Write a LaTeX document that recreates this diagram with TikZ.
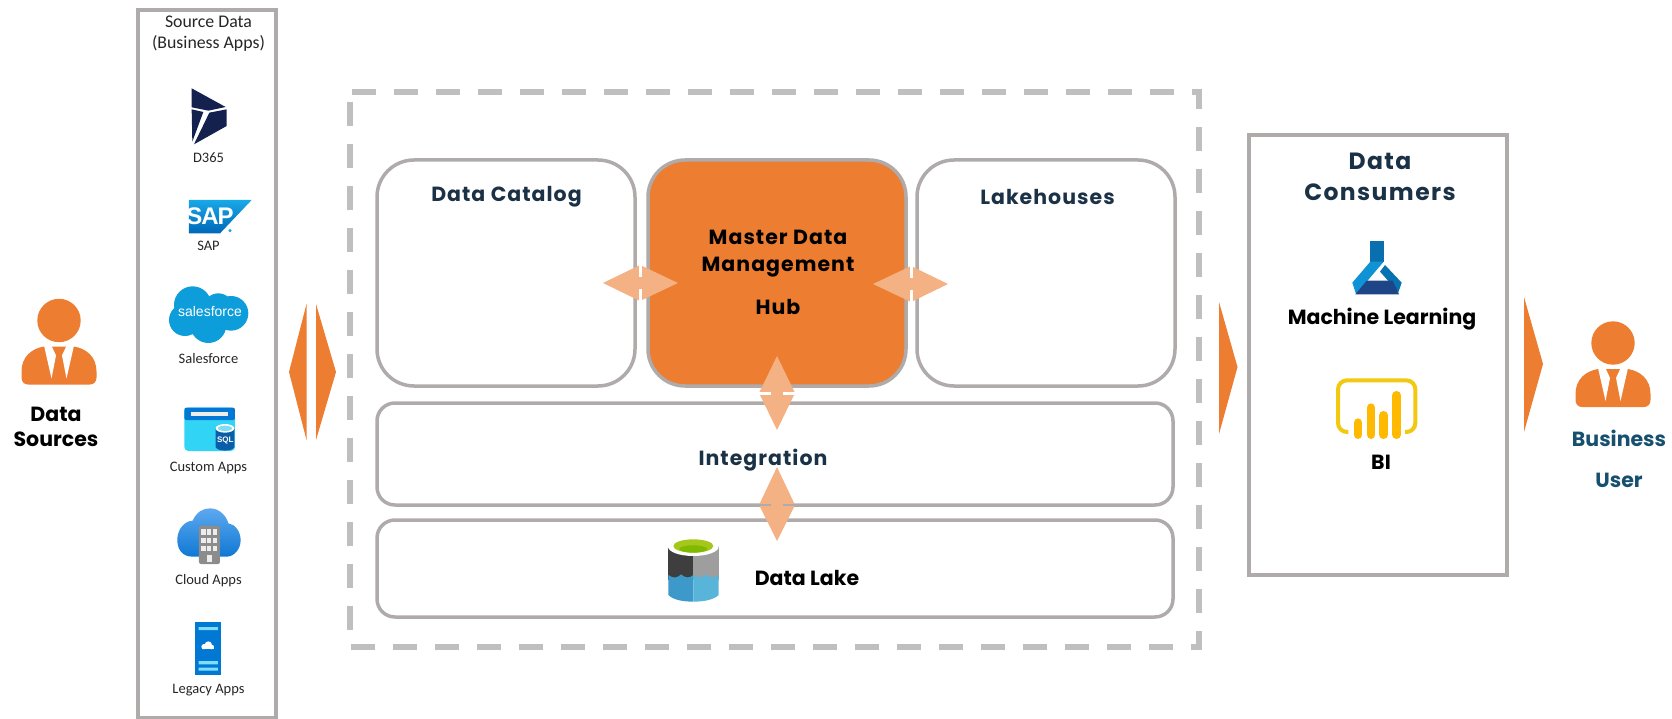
\documentclass[tikz,border=0pt]{standalone}
\usepackage{fontspec}
\setmainfont{Poppins}
\newfontfamily\trk{Poppins}[LetterSpace=5]
\newfontfamily\trkb{Poppins}[LetterSpace=6]
\newfontfamily\carl{Carlito}
\newfontfamily\libs{Liberation Sans}
\definecolor{strokegray}{HTML}{AFABAB}
\definecolor{dashgray}{HTML}{BFBFBF}
\definecolor{orng}{HTML}{ED7D31}
\definecolor{lightorng}{HTML}{F4B183}
\definecolor{navytext}{HTML}{1B3146}
\definecolor{tealtext}{HTML}{17506F}
\definecolor{calgray}{HTML}{262626}
\definecolor{dnavy}{HTML}{14214F}
\definecolor{saptop}{HTML}{18A8E8}
\definecolor{sapbot}{HTML}{0068B8}
\definecolor{sfblue}{HTML}{0D9DDA}
\definecolor{azcyan}{HTML}{32D4F5}
\definecolor{azblue}{HTML}{0078D4}
\definecolor{sqlblue}{HTML}{0A5DA8}
\definecolor{sqllight}{HTML}{7FDDF5}
\definecolor{cloudtop}{HTML}{5EA9EF}
\definecolor{cloudbot}{HTML}{0F78D4}
\definecolor{bldg}{HTML}{8C8C8C}
\definecolor{wind}{HTML}{EDEDED}
\definecolor{lakedark}{HTML}{3E3E3E}
\definecolor{lakegray}{HTML}{9E9E9E}
\definecolor{lakeblue}{HTML}{3C99C9}
\definecolor{lakelight}{HTML}{59B4D9}
\definecolor{lakegreen}{HTML}{A5C71B}
\definecolor{lakegreenb}{HTML}{7FBA00}
\definecolor{mlneck}{HTML}{0A6FAF}
\definecolor{mlleft}{HTML}{0F93D5}
\definecolor{mlright}{HTML}{0672AF}
\definecolor{mlbot}{HTML}{1E4585}
\definecolor{biline}{HTML}{F2C811}
\definecolor{bibar}{HTML}{FFB900}
\tikzset{
  x=1pt,y=-1pt,
  panel/.style={draw=strokegray,line width=3.5pt,inner sep=0pt,outer sep=0pt},
  roundpanel/.style={panel,rounded corners=37pt},
  flatpanel/.style={panel,rounded corners=18pt},
  small/.style={font=\carl\fontsize{14.5}{17}\selectfont,text=calgray,inner sep=0pt},
  head/.style={font=\trk\fontsize{20.5}{27}\selectfont\bfseries,text=navytext,inner sep=0pt,align=center},
  blk/.style={font=\fontsize{20.5}{25}\selectfont\bfseries,text=black,inner sep=0pt,align=center},
  person/.pic={
    \fill[orng] (0,-26) circle (21.7);
    \fill[orng] (-37.5,31) -- (-37.5,25) .. controls (-37.5,10) and (-27,2) .. (-15,0) -- (15,0)
       .. controls (27,2) and (37.5,10) .. (37.5,25) -- (37.5,31)
       .. controls (37.5,35) and (35,38) .. (31,38) -- (-31,38)
       .. controls (-35,38) and (-37.5,35) .. (-37.5,31) -- cycle;
    \fill[white] (-15,-1) -- (-7.5,32) -- (-3,9) -- (-7.6,-1) -- cycle;
    \fill[white] (15,-1) -- (7.5,32) -- (3,9) -- (7.6,-1) -- cycle;
  }
}
\begin{document}
\begin{tikzpicture}
\useasboundingbox (0,0) rectangle (1672,719);
% persons
\pic at (59,346.5) {person};
\pic at (1613,369) {person};
\node[blk] (src) at (56,426.5) {Data\\Sources};
\node[blk,text=tealtext,font=\fontsize{20.5}{41}\selectfont\bfseries] (biz) at (1619,458.5) {Business\\User};
% source column
\node[panel,minimum width=138,minimum height=708] (srcbox) at (207,364) {};
\node[small,align=center,font=\carl\fontsize{17.8}{21}\selectfont] (srctitle) at (208.5,33.5) {Source Data\\(Business Apps)};
\node[small] (d365) at (208.5,158) {D365};
\node[small] (sap) at (208.5,246) {SAP};
\node[small] (sf) at (208.5,359) {Salesforce};
\node[small] (custom) at (208.5,467.5) {Custom Apps};
\node[small] (cloud) at (208.5,580.5) {Cloud Apps};
\node[small] (legacy) at (208.5,690.5) {Legacy Apps};
% D365 icon
\begin{scope}[scale=1/3]
 \fill[dnavy] (575,265) -- (677,321) -- (625,332) -- (575,322) -- cycle;
 \fill[dnavy] (575,328) -- (610,336) -- (577,425) -- cycle;
 \fill[dnavy] (680,328) -- (680,378) -- (582,433) -- (628,338) -- cycle;
 % SAP icon
 \shade[top color=saptop,bottom color=sapbot] (567,600) -- (755,600) -- (660,700) -- (567,700) -- cycle;
 \node[inner sep=0pt,text=white] (saplogo) at (630,648) {\libs\fontsize{24}{24}\selectfont\bfseries S\kern-1pt A\kern-1pt P};
 \fill[saptop] (690,692) circle (5);
 % Salesforce icon
 \fill[sfblue] (578,915) circle (56) (655,925) circle (45) (693,940) circle (52) (555,960) circle (48) (625,975) circle (54);
 \node[inner sep=0pt,text=white] (sflogo) at (630,936) {\libs\fontsize{14}{14}\selectfont salesforce};
\end{scope}
\begin{scope}[shift={(0,360)},scale=1/3]
 % custom apps icon
 \fill[azcyan,rounded corners=4pt] (553,143) rectangle (705,273);
 \fill[azblue,rounded corners=2pt] (553,143) rectangle (705,180);
 \fill[wind] (573,155) rectangle (685,168);
 \fill[sqlblue] (647,205) -- (647,262) .. controls (655,275) and (695,275) .. (703,262) -- (703,205) -- cycle;
 \fill[white] (675,205) ellipse (28 and 13);
 \fill[sqllight] (675,205) ellipse (21 and 8);
 \node[inner sep=0pt,text=white] (sqllogo) at (676,240) {\libs\fontsize{8}{8}\selectfont\bfseries SQL};
 % cloud icon
 \shade[top color=cloudtop,bottom color=cloudbot] (578,590)
   .. controls (545,590) and (530,565) .. (532,535)
   .. controls (534,505) and (555,483) .. (578,482)
   .. controls (590,455) and (610,445) .. (630,445)
   .. controls (660,445) and (680,470) .. (685,490)
   .. controls (705,492) and (722,515) .. (722,540)
   .. controls (722,570) and (700,590) .. (680,590) -- cycle;
 \fill[bldg,rounded corners=2pt] (597,497) rectangle (660,612);
 \foreach \cx in {604,621,639} \foreach \cy in {508,533,558} \fill[wind] (\cx,\cy) rectangle ++(13,16);
 \fill[wind] (621,585) rectangle (635,606);
 % legacy icon
 \fill[azblue] (586,787) rectangle (662,946);
 \fill[sqllight] (596,801) rectangle (654,810) (596,903) rectangle (654,913) (596,923) rectangle (654,932);
 \fill[white] (612,860) circle (8) (625,855) circle (11) (635,861) circle (7);
 \fill[white] (606,860) rectangle (641,868);
\end{scope}
% main area
\draw[dashgray,line width=6pt,dash pattern=on 24pt off 18pt] (352,92) -- (1199,92) -- (1199,647) -- (350,647) -- (350,92);
\node[roundpanel,minimum width=258,minimum height=226] (catalog) at (506,273) {};
\node[roundpanel,fill=orng,minimum width=258,minimum height=226] (hub) at (777,273) {};
\node[roundpanel,minimum width=258,minimum height=226] (lake) at (1046,273) {};
\node[flatpanel,minimum width=796,minimum height=102] (integ) at (775,454) {};
\node[flatpanel,minimum width=796,minimum height=97] (dlake) at (775,568.5) {};
\node[head] (catt) at (506.5,197) {Data Catalog};
\node[head] (lakt) at (1047.5,197) {Lakehouses};
\node[head] (intt) at (763,460.5) {Integration};
\node[head,text=black] (mdm) at (778,272.5) {Master Data\\Management\\[16pt]Hub};
\node[blk] (dlt) at (807,578) {Data Lake};
% data lake icon
\begin{scope}[shift={(620,440)},scale=1/3]
 \fill[lakedark] (145,318) rectangle (220,420);
 \fill[lakegray] (220,318) rectangle (296,420);
 \fill[lakeblue] (145,405) .. controls (160,418) and (175,412) .. (183,403) .. controls (195,415) and (210,415) .. (220,405) -- (220,485) .. controls (190,485) and (160,480) .. (145,465) -- cycle;
 \fill[lakelight] (220,405) .. controls (235,415) and (248,415) .. (258,403) .. controls (270,415) and (285,415) .. (296,405) -- (296,465) .. controls (280,480) and (250,485) .. (220,485) -- cycle;
 \fill[white] (220,320) ellipse (76 and 28);
 \fill[lakegreen] (220,318) ellipse (60 and 20);
 \fill[lakegreenb] (220,327) ellipse (42 and 11);
\end{scope}
% consumers
\node[panel,minimum width=258,minimum height=440] (cons) at (1378,355) {};
\node[head,font=\trkb\fontsize{23.5}{30.5}\selectfont\bfseries] (const) at (1380,177) {Data\\Consumers};
\node[blk] (ml) at (1382,319) {Machine Learning};
\node[blk] (bi) at (1381,462.5) {BI};
\begin{scope}[shift={(1230,130)},scale=1/3]
 % ML icon
 \fill[mlneck] (421,333) rectangle (461,397);
 \fill[mlleft] (421,395) -- (461,395) -- (410,455) -- (378,492) -- (367,458) -- cycle;
 \fill[mlright] (465,405) -- (515,458) -- (505,487) -- (450,425) -- cycle;
 \fill[mlbot] (410,452) -- (488,452) -- (507,493) -- (376,493) -- cycle;
 % BI icon
 \draw[biline,line width=4pt,rounded corners=9pt] (355,906) -- (324,906) -- (324,751) -- (556,751) -- (556,906) -- (525,906);
 \draw[bibar,line width=8.7pt,line cap=round]
   (384,878) -- (384,914) (423,833) -- (423,914) (461,856) -- (461,914) (500,796) -- (500,914);
\end{scope}
% big arrows
\fill[orng] (306.5,304) -- (289,372) -- (306.5,440) -- cycle;
\fill[orng] (316,304) -- (336,372) -- (316,440) -- cycle;
\fill[orng] (1219,302) -- (1237.5,367) -- (1219,434) -- cycle;
\fill[orng] (1524,297) -- (1543,364) -- (1524,432) -- cycle;
% light double arrows
\fill[lightorng] (603,283) -- (640,265) -- (678,283) -- (640,301) -- cycle;
\draw[white,line width=3pt] (640,265) -- (640,277) (640,289) -- (640,301);
\fill[lightorng] (873,284) -- (911,266) -- (948,284) -- (911,302) -- cycle;
\draw[white,line width=3pt] (911,266) -- (911,278) (911,290) -- (911,302);
\fill[lightorng] (777,356) -- (795,393) -- (777,430) -- (759,393) -- cycle;
\draw[white,line width=3pt] (759,393) -- (771,393) (783,393) -- (795,393);
\fill[lightorng] (777,467) -- (795,505) -- (777,541) -- (759,505) -- cycle;
\draw[strokegray,line width=2.5pt] (759,505) -- (771,505) (783,505) -- (795,505);
\end{tikzpicture}
\end{document}
